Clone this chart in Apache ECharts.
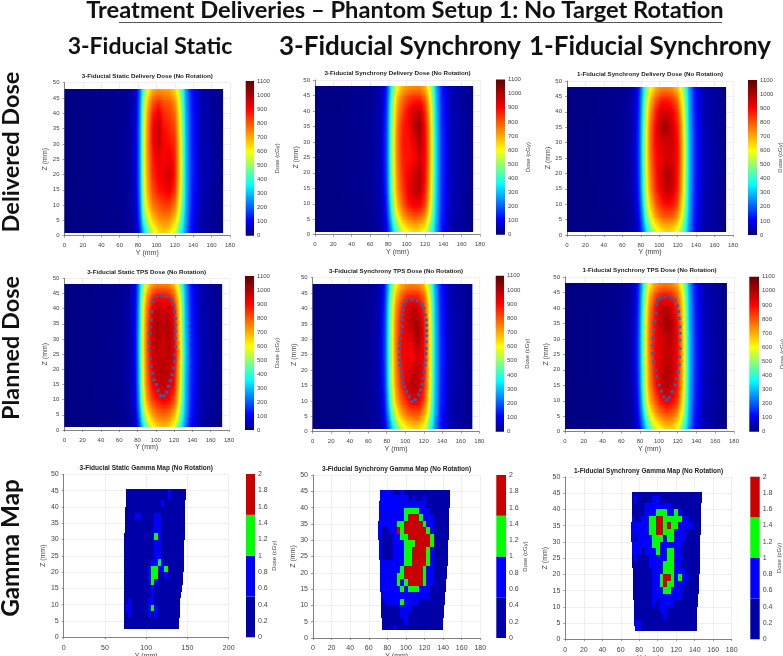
<!doctype html>
<html lang="en">
<head>
<meta charset="UTF-8">
<title>Treatment Deliveries - Phantom Setup 1</title>
<style>
html,body{margin:0;padding:0;background:#fff;overflow:hidden}
#main{width:783px;height:656px}
</style>
</head>
<body>
<div id="main"></div>
<script src="https://cdn.jsdelivr.net/npm/echarts@6/dist/echarts.min.js"></script>
<script>
// dose grid, mm
var doseY = [0,30,60,72,78,82,86,90,96,102,108,114,120,124,128,132,138,148,172.5];
var doseZ = [1,3,6,10,15,20,25,30,35,40,44,46,48];
var doseTicks = [0,100,200,300,400,500,600,700,800,900,1000,1100];

// one row per doseZ, bottom to top, cGy
var staticDelivered = [
[3,6,12,22,50,140,300,430,550,630,660,630,560,460,350,230,110,35,6],
[3,6,12,22,55,160,340,470,600,670,700,680,600,490,380,250,120,38,6],
[3,6,13,24,65,190,430,560,680,740,760,750,680,570,420,270,130,40,7],
[4,7,14,26,75,220,500,640,760,800,830,830,760,630,470,290,140,45,8],
[4,7,15,28,85,240,540,690,820,880,900,930,850,680,510,300,150,48,9],
[5,8,15,30,90,250,550,710,850,910,920,970,880,700,520,300,155,50,10],
[5,8,15,30,90,250,560,720,870,930,900,930,870,700,520,300,155,50,10],
[5,8,15,30,90,250,560,730,900,970,900,890,850,690,510,300,150,48,10],
[5,8,15,30,90,250,550,720,900,980,890,860,820,670,500,290,150,48,9],
[4,7,14,28,85,240,530,700,860,930,850,830,780,640,480,280,145,45,9],
[4,7,14,27,80,230,490,650,790,840,800,790,730,600,450,270,140,44,8],
[4,7,13,26,78,220,450,610,740,770,750,740,680,570,430,265,135,42,8],
[4,7,13,25,75,210,400,570,680,720,700,700,640,540,410,260,130,40,8]
];
var sync3Delivered = [
[3,6,14,30,90,200,340,450,560,620,650,640,590,500,400,270,130,40,6],
[3,6,14,32,100,230,390,500,620,680,700,690,640,540,420,280,135,42,6],
[3,7,15,36,120,280,470,600,720,780,810,800,730,620,470,300,145,45,7],
[4,7,16,40,140,330,540,680,800,880,920,920,830,690,510,320,150,48,8],
[4,8,17,44,160,370,590,730,840,920,970,1000,880,730,540,330,155,50,9],
[4,8,18,46,170,380,600,750,860,900,950,990,900,750,550,340,160,50,10],
[5,8,18,48,175,390,610,760,870,880,900,960,910,760,560,340,160,50,10],
[5,8,18,48,175,390,610,770,880,880,930,1000,910,760,560,340,160,50,10],
[5,8,18,46,170,380,600,760,870,900,980,1030,900,750,550,330,155,50,10],
[4,8,17,44,160,370,580,720,830,900,950,980,860,710,530,320,150,48,9],
[4,7,16,42,150,340,540,680,780,830,860,860,790,660,500,310,145,46,9],
[4,7,16,40,145,320,510,640,730,770,790,790,730,620,480,300,140,45,8],
[4,7,15,38,140,310,480,600,690,720,730,730,690,590,460,290,135,44,8]
];
var sync1Delivered = [
[3,6,13,28,80,190,320,440,550,620,650,640,580,490,390,260,125,38,6],
[3,6,13,30,90,220,370,490,610,680,700,690,630,530,410,270,130,40,6],
[3,6,14,34,110,260,450,580,710,780,800,790,720,600,460,290,140,44,7],
[4,7,15,38,130,310,520,660,790,860,900,890,810,670,500,310,145,46,8],
[4,7,16,42,150,350,570,720,850,930,980,970,870,710,530,320,150,48,9],
[4,8,17,44,160,360,590,740,870,950,1000,980,880,730,540,330,155,50,9],
[5,8,17,46,165,370,600,760,880,920,950,950,890,740,550,330,155,50,10],
[5,8,17,46,165,370,600,770,900,950,960,960,890,740,550,330,155,50,10],
[5,8,17,44,160,360,590,760,900,1000,1010,960,870,720,530,320,150,48,9],
[4,7,16,42,150,340,560,720,860,950,960,920,830,680,510,310,145,46,9],
[4,7,15,40,140,320,520,660,790,860,870,840,760,630,480,300,140,44,8],
[4,7,15,38,135,300,490,620,730,790,800,780,710,590,460,290,135,43,8],
[4,7,14,36,130,290,460,580,680,730,740,720,660,560,440,280,130,42,8]
];
var staticPlanned = [
[3,6,12,24,60,170,330,460,580,650,680,660,580,470,360,230,110,35,6],
[3,6,12,25,70,200,390,530,650,710,730,710,640,530,400,260,125,38,6],
[3,6,13,27,85,240,470,620,730,790,810,790,720,600,450,290,140,42,7],
[4,7,14,30,100,280,550,700,830,880,920,900,820,680,500,310,150,46,8],
[4,7,15,32,110,310,590,750,900,960,980,960,900,720,530,320,155,48,9],
[4,8,15,34,115,320,600,770,930,980,1000,980,920,750,550,330,160,50,10],
[5,8,16,35,120,330,610,780,950,980,960,990,950,790,570,340,160,50,10],
[5,8,16,35,120,330,610,780,960,1000,960,1000,930,760,550,330,160,50,10],
[5,8,16,34,115,320,600,770,950,1010,980,1000,920,750,540,320,155,48,10],
[4,8,15,33,110,310,590,750,920,980,950,970,890,720,530,310,150,47,9],
[4,7,15,32,105,290,550,700,850,900,880,880,800,660,500,300,145,45,9],
[4,7,14,30,100,280,510,650,780,820,820,810,740,610,470,290,140,44,8],
[4,7,14,30,95,270,470,610,720,750,750,740,680,570,440,280,135,42,8]
];
var sync3Planned = [
[3,6,14,28,85,190,320,430,540,610,650,650,590,490,380,250,120,38,6],
[3,6,14,30,95,220,370,490,610,680,710,710,640,530,410,270,130,40,6],
[3,7,15,34,115,270,450,590,710,780,810,810,730,610,460,290,140,44,7],
[4,7,16,38,135,320,530,680,800,870,930,930,830,680,500,310,150,47,8],
[4,8,17,42,155,360,580,730,860,950,1000,980,880,720,530,320,155,49,9],
[4,8,18,44,165,370,590,750,880,930,960,980,900,740,540,330,160,50,10],
[5,8,18,46,170,380,600,760,900,910,900,960,910,750,550,330,160,50,10],
[5,8,18,46,170,380,600,770,900,920,950,1020,910,750,550,330,160,50,10],
[5,8,18,44,165,370,590,760,890,950,1000,1020,900,740,540,320,155,50,10],
[4,8,17,42,155,360,570,730,860,950,980,960,860,710,520,310,150,48,9],
[4,7,16,40,145,330,530,680,790,860,870,860,790,650,490,300,145,46,9],
[4,7,16,38,140,310,500,640,740,790,800,790,730,610,470,290,140,45,8],
[4,7,15,36,135,300,470,600,690,730,740,730,680,570,450,280,135,44,8]
];
var sync1Planned = [
[3,6,13,27,80,180,310,430,540,610,660,650,590,490,380,250,120,38,6],
[3,6,13,29,90,210,360,490,610,680,720,710,640,530,410,270,130,40,6],
[3,6,14,33,110,260,450,590,710,780,820,800,730,610,460,290,140,44,7],
[4,7,15,37,130,310,530,680,800,880,930,910,830,680,500,310,150,47,8],
[4,7,16,41,150,350,580,740,870,960,1000,970,880,720,530,320,155,49,9],
[4,8,17,43,160,360,590,750,890,960,1000,980,890,740,540,330,160,50,10],
[5,8,17,45,165,370,600,770,900,950,970,970,900,750,550,330,160,50,10],
[5,8,17,45,165,370,600,780,900,950,980,980,900,750,550,330,160,50,10],
[5,8,17,43,160,360,590,770,900,980,1020,1000,890,730,540,320,155,49,10],
[4,7,16,41,150,340,570,740,880,970,990,950,850,700,520,310,150,48,9],
[4,7,15,39,140,320,530,690,810,880,890,860,780,650,490,300,145,46,9],
[4,7,15,37,135,300,500,640,750,800,810,790,730,610,470,290,140,45,8],
[4,7,14,35,130,290,470,600,700,740,750,730,680,570,450,280,135,44,8]
];

// target outlines, [Y, Z]
var staticTarget = [[100.7,44],[106,44.3],[112,44],[117,43],[119.6,41.2],[120.7,39],[121.5,36.8],[121.5,34.6],[121.5,32.5],[121.5,30.3],[121.5,27.5],[120.7,24.8],[120.7,22.6],[119.6,20.4],[118,18.2],[116,16.3],[114,14.4],[112,12.5],[108.7,11.3],[105,11.3],[102.5,13],[100.7,15],[98,16.6],[96,18.7],[95,21],[94,23.7],[93,26.4],[93,29],[93.5,31.7],[94,34],[95,36.3],[95.6,39],[97,42.3]];
var sync3Target = [[101.4,42.5],[106.8,43],[113,42.5],[117.6,41.4],[120,40],[121.6,37.9],[122.7,36.3],[123,34.6],[123,32.8],[123,31.2],[122.7,29.2],[122.7,27],[122.3,25.4],[122,23.2],[121.2,21.6],[120.5,19.5],[119.8,17.3],[118.3,15.4],[116.5,13.5],[114.7,11.9],[111,10.4],[107.2,9.9],[104.3,11.4],[101.4,13],[99.3,14.6],[97.5,16.2],[96.4,17.9],[95.7,19.7],[94.6,21.6],[93.9,23.3],[93.9,25.1],[93.9,27],[94.2,28.7],[95,30.3],[96,32.5],[96.8,34.1],[96.8,36.3],[97.1,37.9],[97.8,39.5],[98.9,41.4]];
var sync1Target = [[101.8,43.3],[106.4,43.6],[112.4,43.4],[117,42.6],[119.9,40.7],[120.9,38.8],[121.6,36.6],[122.3,33.9],[122.3,31.8],[122.3,29.6],[122.3,26.9],[122,24.2],[121.6,21.6],[120.6,19.4],[118.8,17.2],[117,15.1],[114.2,12.9],[111,11],[108.2,10.2],[105.3,11.3],[102.8,13.1],[100.4,15.1],[97.5,17.8],[96.1,19.9],[94.7,22.6],[93.6,25.3],[93.6,28],[94,30.4],[95,32.9],[95.7,35.6],[96.5,38.3],[97.5,41],[98.6,42.6]];

// gamma grid, cell edges in mm
var gammaY = [70,74,78,82,86,90,94,98,102,106,110,114,118,122,126,130,134,138,142,146,150];
var gammaZ = [2.5,4,6,8,10,12,14,16,18,20,22,24,26,28,30,32,34,36,38,40,42,44,45.5];
var gammaTicks = [0,0.5,1,1.5,2];
// levels used when reading the map colours
var L = 0.3, B = 0.7, G = 1.2, R = 1.8;

var staticGamma = [
[L,L,L,L,L,L,L,L,L,L,L,L,L,L,L,L,L,L,L,L],
[L,L,L,L,L,L,L,L,L,L,L,L,L,L,L,L,L,L,L,L],
[L,L,B,L,L,L,L,L,B,L,B,L,L,L,L,L,L,L,L,L],
[L,B,B,L,L,L,L,L,B,G,B,L,L,L,L,L,L,L,L,L],
[L,L,B,L,L,L,L,L,B,B,L,L,L,L,L,L,L,L,L,L],
[L,L,L,L,L,L,L,L,L,B,L,L,L,L,L,L,L,L,L,L],
[L,L,L,L,L,L,L,L,L,B,L,L,L,L,L,L,L,L,L,L],
[L,L,L,L,L,L,L,L,B,G,B,L,L,L,L,L,L,L,L,L],
[L,L,L,L,L,L,L,L,B,G,G,L,L,B,L,L,L,L,L,L],
[L,L,L,L,L,L,L,L,B,G,G,B,B,G,L,L,L,L,L,L],
[L,L,L,L,L,L,L,L,L,B,B,G,B,L,L,L,L,L,L,L],
[L,L,L,L,L,L,L,L,L,L,B,B,L,L,L,L,L,L,L,L],
[L,L,L,L,L,L,L,L,L,L,B,B,L,L,L,L,L,L,L,L],
[L,L,L,L,L,L,L,L,L,L,B,B,L,L,L,L,L,L,L,L],
[L,L,L,L,L,L,L,L,L,L,G,B,L,L,L,L,L,L,L,L],
[L,L,L,L,L,L,L,L,L,L,B,B,L,L,L,L,L,L,L,L],
[L,L,L,L,L,L,L,L,L,L,B,B,L,L,L,L,L,L,L,L],
[L,L,L,L,B,B,L,L,L,L,B,B,L,L,L,L,L,L,L,L],
[L,L,L,L,L,L,L,L,L,L,L,L,L,L,L,L,L,L,L,L],
[L,L,L,L,L,L,L,L,L,L,L,L,B,L,L,L,L,L,L,L],
[L,L,L,L,L,L,L,L,L,L,L,L,L,L,B,L,L,L,L,L],
[L,L,L,L,L,L,L,L,L,L,L,L,L,L,B,L,L,L,L,L]
];
var sync3Gamma = [
[L,L,L,L,B,L,L,L,L,L,L,L,L,L,L,L,L,L,L,L],
[L,L,L,L,L,L,L,B,L,L,L,L,L,L,L,L,L,L,L,L],
[L,L,L,L,L,L,B,B,L,L,L,L,L,L,L,L,L,L,L,L],
[L,L,L,L,L,L,B,B,B,L,L,L,L,L,L,L,L,L,L,L],
[L,L,B,B,B,B,G,B,B,B,B,L,L,L,L,L,L,L,L,L],
[B,B,B,B,B,B,B,B,B,B,B,B,B,B,L,L,L,L,L,L],
[B,B,B,B,B,B,G,B,G,G,G,B,B,B,L,L,L,L,L,L],
[B,B,B,B,B,G,B,G,R,R,R,R,G,B,B,L,L,L,L,L],
[B,B,B,B,B,G,G,R,R,R,R,R,G,B,B,L,L,L,L,L],
[B,B,B,B,B,B,G,R,R,R,R,R,G,B,B,L,L,L,L,L],
[B,B,B,B,B,B,B,G,G,R,R,R,R,G,B,L,L,L,L,L],
[B,L,L,L,B,B,B,G,G,R,R,R,R,G,B,L,L,L,L,L],
[B,L,L,L,B,B,B,G,G,R,R,R,R,G,B,L,L,L,L,L],
[B,L,L,L,B,B,B,G,G,G,R,R,R,R,G,L,L,L,L,L],
[B,L,L,L,B,B,G,G,R,R,R,R,R,R,G,L,L,L,L,L],
[B,L,L,B,B,R,G,R,R,R,R,R,R,G,B,L,L,L,L,L],
[B,B,B,B,B,G,G,R,R,R,R,R,G,B,B,L,L,L,L,L],
[B,B,B,B,B,B,B,G,R,R,R,G,B,B,B,L,L,L,L,L],
[B,B,B,B,B,B,B,G,G,G,G,B,B,B,L,L,L,L,L,L],
[B,B,B,B,B,B,B,B,B,B,B,B,B,L,L,L,L,L,L,L],
[B,B,B,B,B,B,B,B,L,B,L,L,B,L,L,L,L,L,L,L],
[B,B,B,B,L,L,B,L,L,L,L,L,L,L,L,L,L,L,L,L]
];
var sync1Gamma = [
[L,B,B,L,L,L,L,L,L,L,L,L,L,L,L,L,L,L,L,L],
[L,B,B,L,L,L,L,L,L,L,L,L,L,L,L,L,L,L,L,L],
[L,L,L,L,L,L,L,L,L,B,L,L,L,L,L,L,L,L,L,L],
[L,L,L,L,L,L,L,L,B,B,L,L,L,L,L,L,L,L,L,L],
[L,L,L,L,L,L,B,L,B,B,B,B,L,L,L,L,L,L,L,L],
[L,L,L,L,L,L,B,B,B,B,B,B,B,B,L,L,L,L,L,L],
[L,L,L,L,L,L,B,B,B,G,G,B,B,B,L,L,L,L,L,L],
[L,L,L,L,L,L,B,B,G,R,G,G,B,B,B,L,L,L,L,L],
[L,L,L,L,L,L,B,B,G,R,R,G,B,G,B,B,L,L,L,L],
[L,L,L,L,L,L,B,B,B,G,G,G,B,B,B,L,L,L,L,L],
[L,L,L,L,L,B,B,B,B,G,G,G,B,B,L,L,L,L,L,L],
[L,B,L,L,L,B,B,B,B,B,G,G,B,B,L,L,L,L,L,L],
[B,B,B,L,B,B,B,G,B,B,G,G,B,B,L,L,L,L,L,L],
[B,B,B,B,B,B,G,G,B,B,B,B,B,B,L,L,L,L,L,L],
[B,L,B,B,B,B,G,G,G,B,G,G,B,B,B,L,L,L,L,L],
[B,B,B,B,B,G,G,R,R,G,G,G,B,B,B,L,L,L,L,L],
[B,B,B,B,B,G,G,R,R,G,R,G,G,B,B,B,B,L,L,L],
[B,L,L,B,B,G,G,R,R,G,G,G,G,G,B,B,L,L,L,L],
[L,L,L,L,B,B,B,G,G,G,B,B,G,B,L,L,L,L,L,L],
[L,L,L,L,B,B,B,B,B,B,B,L,L,L,L,L,L,L,L,L],
[L,B,L,L,L,L,B,B,L,L,L,L,L,L,L,L,L,L,L,L],
[L,L,L,L,L,L,L,L,L,L,L,L,L,L,L,L,L,L,L,L]
];
// slanted outer edges per gamma row
var staticLeft = [72.7,72.7,72.7,72.7,72.6,72.6,72.6,72.5,72.5,72.5,72.5,72.5,72.8,73,73.3,73.7,74,74.3,74.7,75,75.4,75.8];
var staticRight = [140,140.3,140.7,141,141.5,142,143,144,145,145.3,145.6,146,146.2,146.4,146.6,146.8,147,147.2,147.4,147.6,147.8,148];
var sync3Left = [74,73.8,73.6,73.4,73,72.8,72.6,72.4,72.2,72,71.6,71.2,71,70.5,70.2,70,70.4,71,71.2,71.5,71.8,72];
var sync3Right = [140,140.4,140.8,141.2,141.8,142.4,143,143.5,144,144.4,144.8,145,145.4,145.6,145.8,146,146.4,146.6,146.8,147.2,147.4,147.7];
var sync1Left = [75,74.6,74.2,74,73.8,73.6,73.4,73.2,73,72.8,72.5,72.2,72,71.8,71.6,71.5,71.6,71.8,72,72.2,72.3,72.5];
var sync1Right = [142,142.3,142.6,143,143.4,143.8,144.2,144.6,145,145.2,145.4,145.6,145.8,146,146.2,146.4,146.6,146.8,147,147.2,147.4,147.6];

// colours
var doseStops = [[0,'#00007f'],[110,'#0000ff'],[360,'#00ffff'],[600,'#ffff00'],[900,'#ff0000'],[1100,'#600000']];
var gammaColors = ['#0000a8','#0000ff','#00ff00','#c80000'];

var FONT = 'Liberation Sans, Arial, sans-serif';
var HEAD = 'Lato, sans-serif';

// plot box x0,x1,y0,y1 and colour bar bx0,bx1,by0
var panels = [
 {t:'3-Fiducial Static Delivery Dose (No Rotation)', d:staticDelivered, b:[64.5,230,82.7,235.7,245.7,254,81]},
 {t:'3-Fiducial Synchrony Delivery Dose (No Rotation)', d:sync3Delivered, b:[315,480,80,234.7,496,505,79.6]},
 {t:'1-Fiducial Synchrony Delivery Dose (No Rotation)', d:sync1Delivered, b:[567,733,81,235,748,757,80]},
 {t:'3-Fiducial Static TPS Dose (No Rotation)', d:staticPlanned, c:staticTarget, b:[64.3,229,278.3,430,245,254,276]},
 {t:'3-Fiducial Synchrony TPS Dose (No Rotation)', d:sync3Planned, c:sync3Target, b:[312.7,479.3,277.7,431.7,495.7,504,275.7]},
 {t:'1-Fiducial Synchrony TPS Dose (No Rotation)', d:sync1Planned, c:sync1Target, b:[565,734,277,431.7,749.3,759,276.7]},
 {t:'3-Fiducial Static Gamma Map (No Rotation)', g:staticGamma, l:staticLeft, r:staticRight, xmax:200, xstep:50, b:[63.7,228.7,474.3,637.3,246,255,474]},
 {t:'3-Fiducial Synchrony Gamma Map (No Rotation)', g:sync3Gamma, l:sync3Left, r:sync3Right, b:[313,480.3,475,638,496.3,506,475]},
 {t:'1-Fiducial Synchrony Gamma Map (No Rotation)', g:sync1Gamma, l:sync1Left, r:sync1Right, b:[565.3,731.7,477,639.3,750.3,759.7,476.7]}
];

function doseColor(v) {
    for (var i = 1; i < doseStops.length; i++) {
        if (v <= doseStops[i][0]) {
            var a = doseStops[i - 1], b = doseStops[i];
            return echarts.color.lerp((v - a[0]) / (b[0] - a[0]), [a[1], b[1]]);
        }
    }
    return doseStops[doseStops.length - 1][1];
}

function gammaColor(v) {
    return gammaColors[Math.min(3, Math.floor(v / 0.5))];
}

function plain(v) { return String(v); }

// one band of the dose field, shaded between the read rows
function doseBand(rows) {
    return function (params, api) {
        var j = api.value(0);
        var last = doseY.length - 1;
        var p0 = api.coord([doseY[0], doseZ[j + 1]]);
        var p1 = api.coord([doseY[last], doseZ[j]]);
        var h = p1[1] - p0[1];
        var n = Math.max(1, Math.ceil(h / 1.5));
        var kids = [];
        for (var k = 0; k < n; k++) {
            var t = 1 - (k + 0.5) / n;
            var stops = [];
            for (var i = 0; i < last; i++) {
                var v0 = rows[j][i] * (1 - t) + rows[j + 1][i] * t;
                var v1 = rows[j][i + 1] * (1 - t) + rows[j + 1][i + 1] * t;
                for (var m = 0; m < 3; m++) {
                    var s = m / 3;
                    stops.push({
                        offset: (doseY[i] + (doseY[i + 1] - doseY[i]) * s) / doseY[last],
                        color: doseColor(v0 + (v1 - v0) * s)
                    });
                }
                if (i == last - 1) stops.push({offset: 1, color: doseColor(v1)});
            }
            // whole pixels, otherwise the bands show seams
            var y0 = Math.round(p0[1] + h * k / n), y1 = Math.round(p0[1] + h * (k + 1) / n);
            if (y1 <= y0) continue;
            kids.push({
                type: 'rect',
                shape: {x: p0[0], y: y0, width: p1[0] - p0[0], height: y1 - y0},
                style: {fill: new echarts.graphic.LinearGradient(0, 0, 1, 0, stops)}
            });
        }
        return {type: 'group', children: kids};
    };
}

function gammaCell(p) {
    return function (params, api) {
        var i = api.value(0), j = api.value(1);
        var x0 = Math.max(gammaY[i], p.l[j]), x1 = Math.min(gammaY[i + 1], p.r[j]);
        if (x1 <= x0) return null;
        var a = api.coord([x0, gammaZ[j + 1]]);
        var b = api.coord([x1, gammaZ[j]]);
        var ax = Math.round(a[0]), ay = Math.round(a[1]);
        return {
            type: 'rect',
            shape: {x: ax, y: ay, width: Math.round(b[0]) - ax, height: Math.round(b[1]) - ay},
            style: {fill: gammaColor(api.value(2))}
        };
    };
}

var grids = [], xAxes = [], yAxes = [], series = [], titles = [];

panels.forEach(function (p) {
    var b = p.b, idx = grids.length;
    var isGamma = !!p.g;
    grids.push({left: b[0], top: b[2], width: b[1] - b[0], height: b[3] - b[2], outerBoundsMode: 'none'});
    xAxes.push({
        gridIndex: idx, type: 'value', min: 0, max: p.xmax || 180, interval: p.xstep || 20,
        name: 'Y (mm)', nameLocation: 'middle', nameGap: isGamma ? 13.5 : 11,
        nameTextStyle: {fontFamily: FONT, fontSize: 7, color: '#444'},
        axisLine: {show: true, onZero: false, lineStyle: {color: '#666', width: 0.8}},
        axisTick: {show: true, length: 2, lineStyle: {color: '#666', width: 0.6}},
        axisLabel: {fontFamily: FONT, fontSize: isGamma ? 7 : 6, color: '#444', margin: 7},
        splitLine: {show: true, lineStyle: {color: '#e8e8e8', width: 0.7}}
    });
    yAxes.push({
        gridIndex: idx, type: 'value', min: 0, max: 50, interval: 5,
        name: 'Z (mm)', nameLocation: 'middle', nameGap: 14, nameRotate: 90,
        nameTextStyle: {fontFamily: FONT, fontSize: 7, color: '#444'},
        axisLine: {show: true, onZero: false, lineStyle: {color: '#666', width: 0.8}},
        axisTick: {show: true, length: 2, lineStyle: {color: '#666', width: 0.6}},
        axisLabel: {fontFamily: FONT, fontSize: isGamma ? 7 : 6, color: '#444', margin: 5},
        splitLine: {show: true, lineStyle: {color: '#e8e8e8', width: 0.7}}
    });
    titles.push({
        text: p.t, left: (b[0] + b[1]) / 2, top: b[2] - 9.5, textAlign: 'center', padding: 0,
        textStyle: {fontFamily: FONT, fontSize: isGamma ? 6.5 : 6.2, fontWeight: 'bold', color: '#222'}
    });

    if (isGamma) {
        var cells = [];
        p.g.forEach(function (row, j) {
            row.forEach(function (v, i) { cells.push([i, j, v]); });
        });
        series.push({
            type: 'custom', xAxisIndex: idx, yAxisIndex: idx, silent: true,
            data: cells, renderItem: gammaCell(p)
        });
    } else {
        series.push({
            type: 'custom', xAxisIndex: idx, yAxisIndex: idx, silent: true,
            data: doseZ.slice(0, -1).map(function (z, j) { return [j]; }),
            renderItem: doseBand(p.d)
        });
    }
    if (p.c) {
        series.push({
            type: 'scatter', xAxisIndex: idx, yAxisIndex: idx, silent: true, z: 5,
            symbolSize: 3.4, itemStyle: {color: '#2a64b4', opacity: 1}, data: p.c
        });
    }
});

// colour bars after the plots, so axis indexes stay simple
panels.forEach(function (p) {
    var b = p.b, idx = grids.length;
    var isGamma = !!p.g;
    grids.push({left: b[4], top: b[6], width: b[5] - b[4], height: b[3] - b[6], outerBoundsMode: 'none'});
    xAxes.push({gridIndex: idx, type: 'value', min: 0, max: 1, show: false});
    yAxes.push({
        gridIndex: idx, type: 'value', position: 'right', min: 0,
        max: isGamma ? 2 : 1100, interval: isGamma ? 0.2 : 100,
        name: 'Dose (cGy)', nameLocation: 'middle', nameGap: isGamma ? 14 : 16, nameRotate: 90,
        nameTextStyle: {fontFamily: FONT, fontSize: 6, color: '#444'},
        axisLine: {show: false}, axisTick: {show: false}, splitLine: {show: false},
        axisLabel: {fontFamily: FONT, fontSize: isGamma ? 7 : 6, color: '#444', margin: 3, formatter: plain}
    });
    if (isGamma) {
        series.push({
            type: 'custom', xAxisIndex: idx, yAxisIndex: idx, silent: true,
            data: gammaTicks.slice(0, -1).map(function (v, i) { return [i]; }),
            renderItem: function (params, api) {
                var i = api.value(0);
                var a = api.coord([0, gammaTicks[i + 1]]), c = api.coord([1, gammaTicks[i]]);
                return {
                    type: 'rect',
                    shape: {x: a[0], y: a[1], width: c[0] - a[0], height: c[1] - a[1]},
                    style: {fill: gammaColors[i]}
                };
            }
        });
    } else {
        series.push({
            type: 'custom', xAxisIndex: idx, yAxisIndex: idx, silent: true,
            data: [[doseTicks[0], doseTicks[doseTicks.length - 1]]],
            renderItem: function (params, api) {
                var a = api.coord([0, api.value(1)]), c = api.coord([1, api.value(0)]);
                var stops = doseStops.map(function (s) {
                    return {offset: s[0] / 1100, color: s[1]};
                });
                return {
                    type: 'rect',
                    shape: {x: a[0], y: a[1], width: c[0] - a[0], height: c[1] - a[1]},
                    style: {fill: new echarts.graphic.LinearGradient(0, 1, 0, 0, stops)}
                };
            }
        });
    }
});

function head(text, x, y, size, rot) {
    return {
        type: 'text', x: x, y: y, rotation: rot || 0,
        style: {text: text, fontFamily: HEAD, fontWeight: 'bold', fontSize: size, fill: '#111', align: 'center', verticalAlign: 'middle'}
    };
}

var chart = echarts.init(document.getElementById('main'));
chart.setOption({
    animation: false,
    backgroundColor: '#fff',
    title: titles,
    grid: grids,
    xAxis: xAxes,
    yAxis: yAxes,
    series: series,
    graphic: [
        head('Treatment Deliveries \u2013 Phantom Setup 1: No Target Rotation', 405, 10, 23.7),
        {type: 'line', shape: {x1: 119, y1: 22.5, x2: 722, y2: 22.5}, style: {stroke: '#555', lineWidth: 1}},
        head('3-Fiducial Static', 150, 47, 23),
        head('3-Fiducial Synchrony', 400, 47, 26),
        head('1-Fiducial Synchrony', 650, 47, 26),
        head('Delivered Dose', 11, 152, 23.5, Math.PI / 2),
        head('Planned Dose', 11, 348, 23.4, Math.PI / 2),
        head('Gamma Map', 11, 548, 24.3, Math.PI / 2)
    ]
});
</script>
</body>
</html>
